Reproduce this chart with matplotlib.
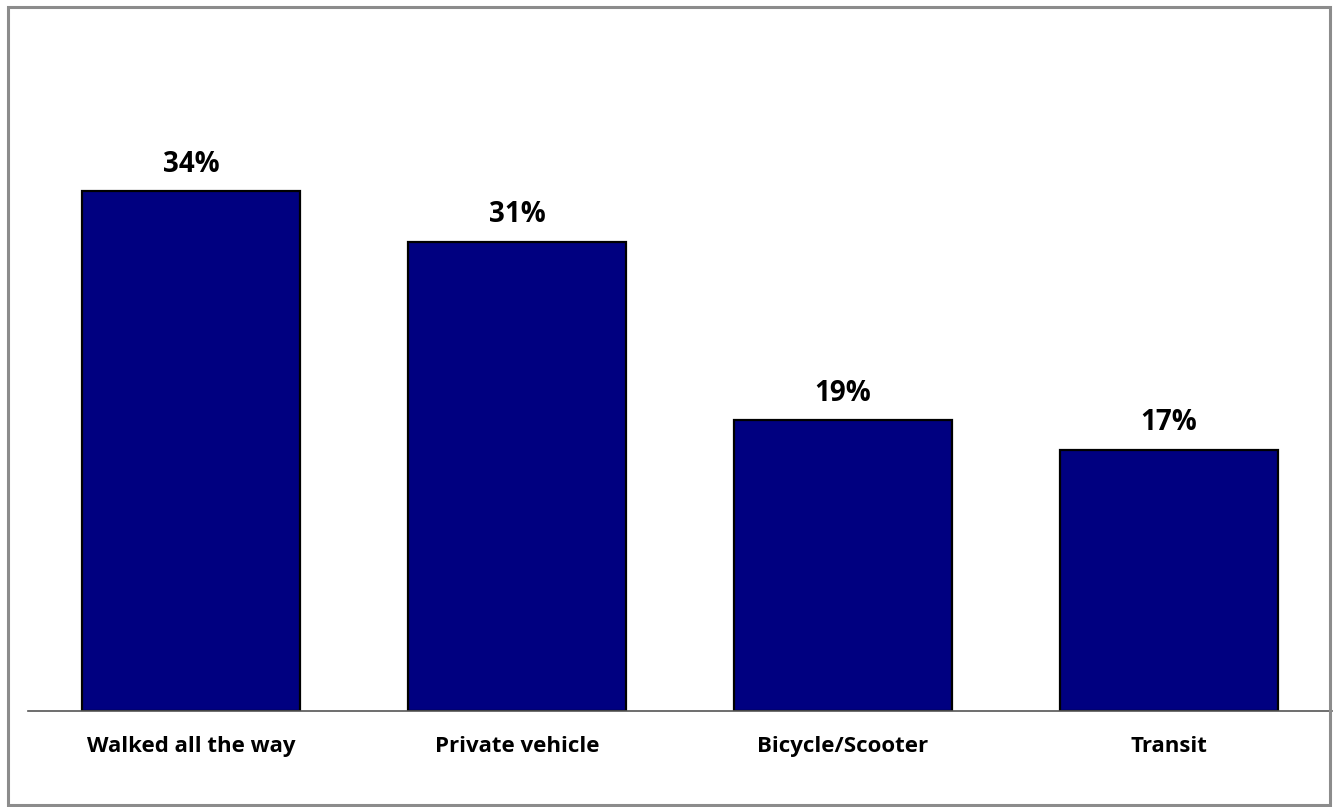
import matplotlib
matplotlib.use("Agg")
import matplotlib.pyplot as plt
from matplotlib.patches import Rectangle

categories = ["Walked all the way", "Private vehicle", "Bicycle/Scooter", "Transit"]
values = [34.0, 30.7, 19.0, 17.1]

W, H = 1335, 807
fig = plt.figure(figsize=(W / 100, H / 100), dpi=100)
plt.rcParams['font.family'] = ['Open Sans', 'DejaVu Sans']

# outer gray frame
fig.patches.append(Rectangle((8 / W, 1 - 805 / H), (1330 - 8) / W, (805 - 7) / H,
                             transform=fig.transFigure, fill=False,
                             edgecolor="#8c8c8c", linewidth=2.2))

ax = fig.add_axes([28 / W, 1 - 711 / H, (1332 - 28) / W, (711 - 99.4) / H])
x = range(len(categories))
ax.bar(x, values, width=0.67, color="#000080", edgecolor="black", linewidth=1.6, zorder=3)

for i, v in enumerate(values):
    ax.annotate("{}%".format(round(v)), (i, v), xytext=(0, 9), textcoords="offset points",
                ha="center", va="bottom", fontsize=20, fontweight="bold")

ax.set_xlim(-0.5, 3.5)
ax.set_ylim(0, 40)
ax.set_xticks(list(x))
ax.set_xticklabels(categories, fontsize=16, fontweight="bold")
ax.tick_params(axis="x", length=0, pad=18)
ax.set_yticks([])
for s in ["top", "left", "right"]:
    ax.spines[s].set_visible(False)
ax.spines["bottom"].set_color("#555555")
ax.spines["bottom"].set_linewidth(1.2)
ax.spines["bottom"].set_zorder(4)

fig.savefig("out.png", dpi=100)
